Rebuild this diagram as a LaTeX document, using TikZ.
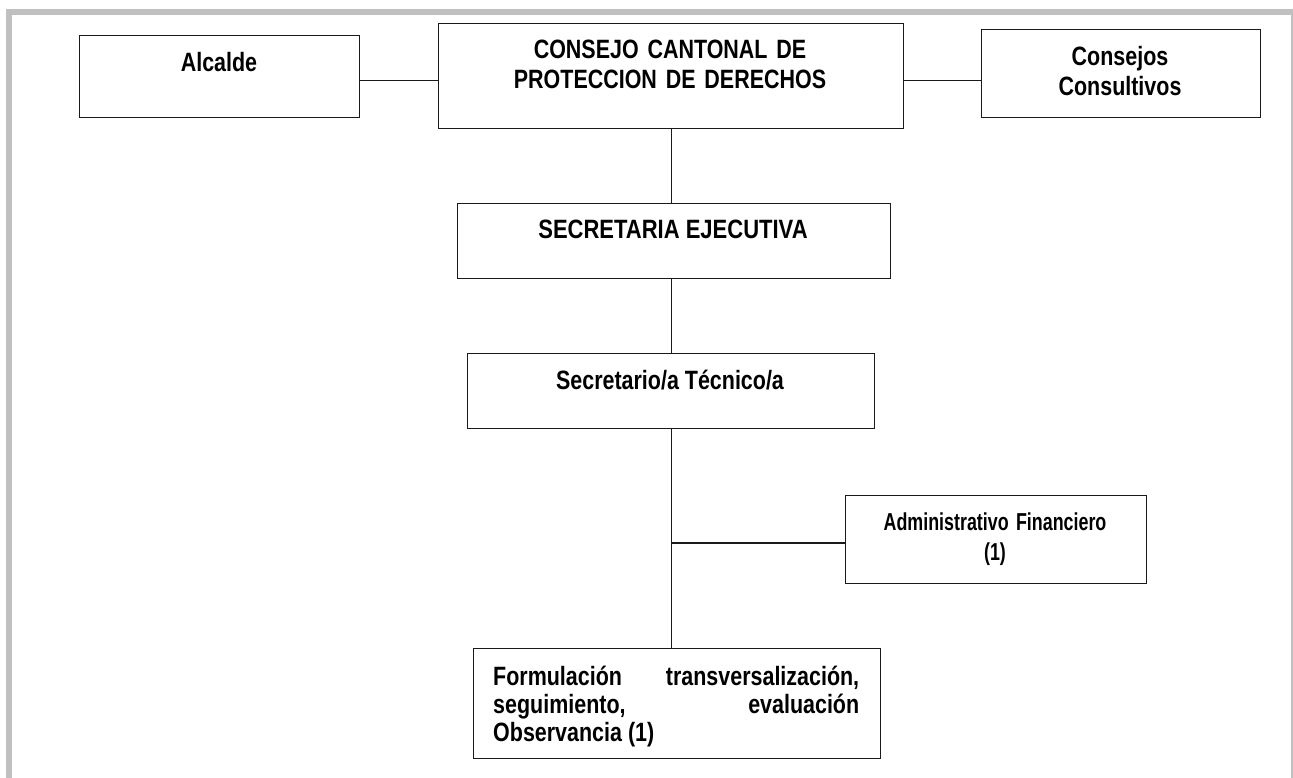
\documentclass[tikz,border=0pt]{standalone}
\usepackage{graphicx}
\usepackage{fontspec}
\setmainfont[FakeStretch=0.81]{Liberation Sans}
\definecolor{framegray}{HTML}{C0C0C0}
\definecolor{ink}{HTML}{1A1A1A}
\begin{document}
\begin{tikzpicture}[x=1pt,y=-1pt,
  box/.style={draw=ink, line width=1.4pt, anchor=north west, inner sep=0pt},
  lbl/.style={font=\fontsize{26.5}{30}\selectfont\bfseries, inner sep=0pt, anchor=base, align=center},
  conn/.style={draw=ink, line width=1.4pt}]
\useasboundingbox (0,0) rectangle (1293,778);
% gray frame
\fill[framegray] (6,9) rectangle (1293,15);
\fill[framegray] (6,9) rectangle (12,778);
\fill[framegray] (1291,15) rectangle (1293,778);
% boxes
\node[box, minimum width=280pt, minimum height=82pt] (alc) at (79,35) {};
\node[box, minimum width=465pt, minimum height=105pt] (con) at (438,23) {};
\node[box, minimum width=279pt, minimum height=88pt] (cc) at (981,29) {};
\node[box, minimum width=433pt, minimum height=75pt] (sec) at (457,203) {};
\node[box, minimum width=407pt, minimum height=75pt] (tec) at (467,353) {};
\node[box, minimum width=301pt, minimum height=88pt] (adm) at (845,495) {};
\node[box, minimum width=407pt, minimum height=110pt] (form) at (473,648) {};
% texts
\node[lbl] (alc-t) at (219,72) {Alcalde};
\node[lbl, text width=440pt] (con-t) at (670,59) {CONSEJO CANTONAL DE\\PROTECCION DE DERECHOS};
\node[lbl, text width=270pt] (cc-t) at (1120,66) {Consejos\\Consultivos};
\node[lbl] (sec-t) at (673,239) {\scalebox{1.025}[1]{SECRETARIA EJECUTIVA}};
\node[lbl] (tec-t) at (670,389) {Secretario/a Técnico/a};
\node[lbl, text width=290pt, font=\fontsize{24.5}{30}\selectfont\bfseries] (adm-t) at (995,530) {\scalebox{0.9}[1]{Administrativo Financiero}\\\scalebox{0.9}[1]{(1)}};
\node[font=\fontsize{26.5}{28}\selectfont\bfseries, inner sep=0pt, anchor=base west, text width=366pt, align=justify] (form-t) at (493,685)
  {Formulación transversalización,\linebreak seguimiento, evaluación\linebreak Observancia (1)};
% connectors
\draw[conn] ([yshift=-4pt]alc.east) -- ([yshift=-4pt]alc.east -| con.west);
\draw[conn] ([yshift=-4.5pt]con.east) -- ([yshift=-4.5pt]con.east -| cc.west);
\draw[conn] ([xshift=0.5pt]con.south) -- ([xshift=0.5pt]con.south |- sec.north);
\draw[conn] ([xshift=0.5pt]tec.north |- sec.south) -- ([xshift=0.5pt]tec.north);
\draw[conn] ([xshift=0.5pt]tec.south) -- ([xshift=0.5pt]tec.south |- form.north);
\coordinate (br) at (671,543);
\draw[conn] (br) -- (br -| adm.west);
\end{tikzpicture}
\end{document}
